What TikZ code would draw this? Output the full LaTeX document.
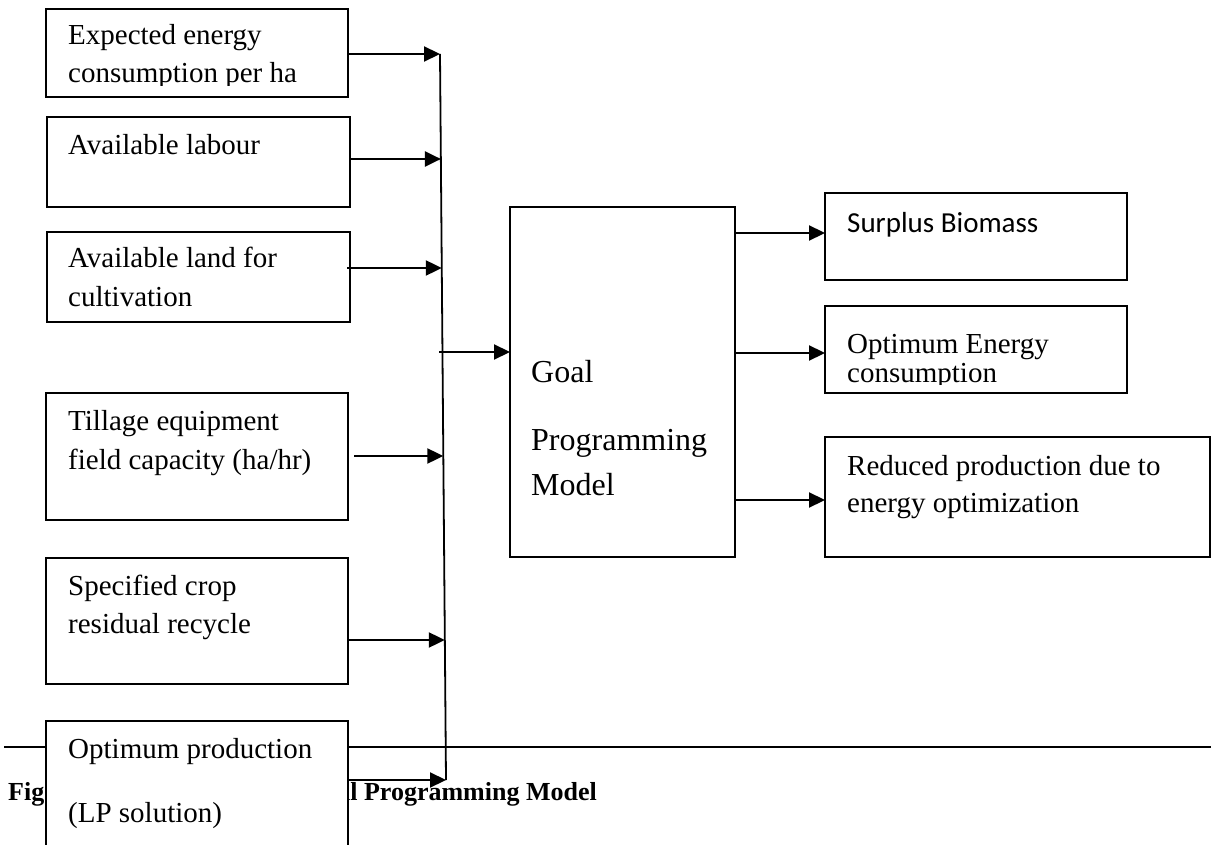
\documentclass[tikz,border=0pt]{standalone}
\usepackage{fontspec}
\setmainfont{Liberation Serif}
\newfontfamily\calibri{Carlito}
\usetikzlibrary{arrows.meta}
\begin{document}
\begin{tikzpicture}[x=1pt,y=-1pt,
  box/.style={draw=black,line width=2pt,fill=white,inner sep=0pt,outer sep=0pt,anchor=north west},
  lbl/.style={anchor=base west,inner sep=0pt,font=\fontsize{29}{34}\selectfont},
  big/.style={anchor=base west,inner sep=0pt,font=\fontsize{32}{38}\selectfont},
  arr/.style={line width=2.2pt,-{Triangle[length=16pt,width=15pt]}},
  bus/.style={line width=1.8pt}]
\clip (0,0) rectangle (1211,845);
\fill[white] (0,0) rectangle (1211,845);

% caption line and separating rule
\node[anchor=base west,inner sep=0pt,font=\bfseries\fontsize{26}{30}\selectfont] (capL) at (8,800) {Fig};
\node[anchor=base east,inner sep=0pt,font=\bfseries\fontsize{26}{30}\selectfont] (capR) at (597,800) {Goal Programming Model};
\draw[line width=2.2pt] (4,747) -- (1211,747);

% input boxes
\node[box,minimum width=302pt,minimum height=88pt] (b1) at (46,9) {};
\node[box,minimum width=303pt,minimum height=90pt] (b2) at (47,117) {};
\node[box,minimum width=303pt,minimum height=90pt] (b3) at (47,232) {};
\node[box,minimum width=302pt,minimum height=127pt] (b4) at (46,393) {};
\node[box,minimum width=302pt,minimum height=126pt] (b5) at (46,558) {};
\node[box,minimum width=302pt,minimum height=150pt] (b6) at (46,721) {};

\node[lbl] (t1a) at (68,45) {Expected energy};
\begin{scope}
  \clip (46,9) rectangle (348,86);
  \node[lbl] (t1b) at (68,83) {consumption per ha};
\end{scope}
\node[lbl] (t2) at (68,155) {Available labour};
\node[lbl] (t3a) at (68,268) {Available land for};
\node[lbl] (t3b) at (68,307) {cultivation};
\node[lbl] (t4a) at (68,430) {Tillage equipment};
\node[lbl] (t4b) at (68,469) {field capacity (ha/hr)};
\node[lbl] (t5a) at (68,595) {Specified crop};
\node[lbl] (t5b) at (68,633) {residual recycle};
\node[lbl] (t6a) at (68,758) {Optimum production};
\node[lbl] (t6b) at (68,822) {(LP solution)};

% model box
\node[box,minimum width=225pt,minimum height=350pt] (goal) at (510,207) {};
\node[big] (g1) at (531,382) {Goal};
\node[big] (g2) at (531,450) {Programming};
\node[big] (g3) at (531,495) {Model};

% output boxes
\node[box,minimum width=302pt,minimum height=87pt] (sb) at (825,193) {};
\node[box,minimum width=302pt,minimum height=87pt] (oe) at (825,306) {};
\node[box,minimum width=385pt,minimum height=120pt] (rp) at (825,437) {};
\node[anchor=base west,inner sep=0pt,font=\calibri\fontsize{29}{34}\selectfont] (ts) at (847,233) {Surplus Biomass};
\node[lbl] (to1) at (847,353) {Optimum Energy};
\begin{scope}
  \clip (825,306) rectangle (1127,384);
  \node[lbl] (to2) at (847,382) {consumption};
\end{scope}
\node[lbl] (tr1) at (847,475) {Reduced production due to};
\node[lbl] (tr2) at (847,512) {energy optimization};

% collecting bus
\coordinate (busTop) at (440,54);
\coordinate (busBot) at (446,780);
\draw[bus] (busTop) -- (busBot);
\coordinate (j1) at (440,54);
\coordinate (j2) at (440.9,159);
\coordinate (j3) at (441.8,268);
\coordinate (jg) at (439,352);
\coordinate (j4) at (443.3,456);
\coordinate (j5) at (444.8,640);
\coordinate (j6) at (446,780);

\draw[arr] (b1.east |- j1) -- (j1);
\draw[arr] (b2.east |- j2) -- (j2);
\draw[arr] ([xshift=-3pt]b3.east |- j3) -- (j3);
\draw[arr] ([xshift=6pt]b4.east |- j4) -- (j4);
\draw[arr] (b5.east |- j5) -- (j5);
\draw[arr] (b6.east |- j6) -- (j6);
\draw[arr] (jg) -- (goal.west |- jg);

% outputs
\coordinate (o1) at (825,233);
\coordinate (o2) at (825,353);
\coordinate (o3) at (825,500);
\draw[arr] (goal.east |- o1) -- (o1);
\draw[arr] (goal.east |- o2) -- (o2);
\draw[arr] (goal.east |- o3) -- (o3);
\end{tikzpicture}
\end{document}
